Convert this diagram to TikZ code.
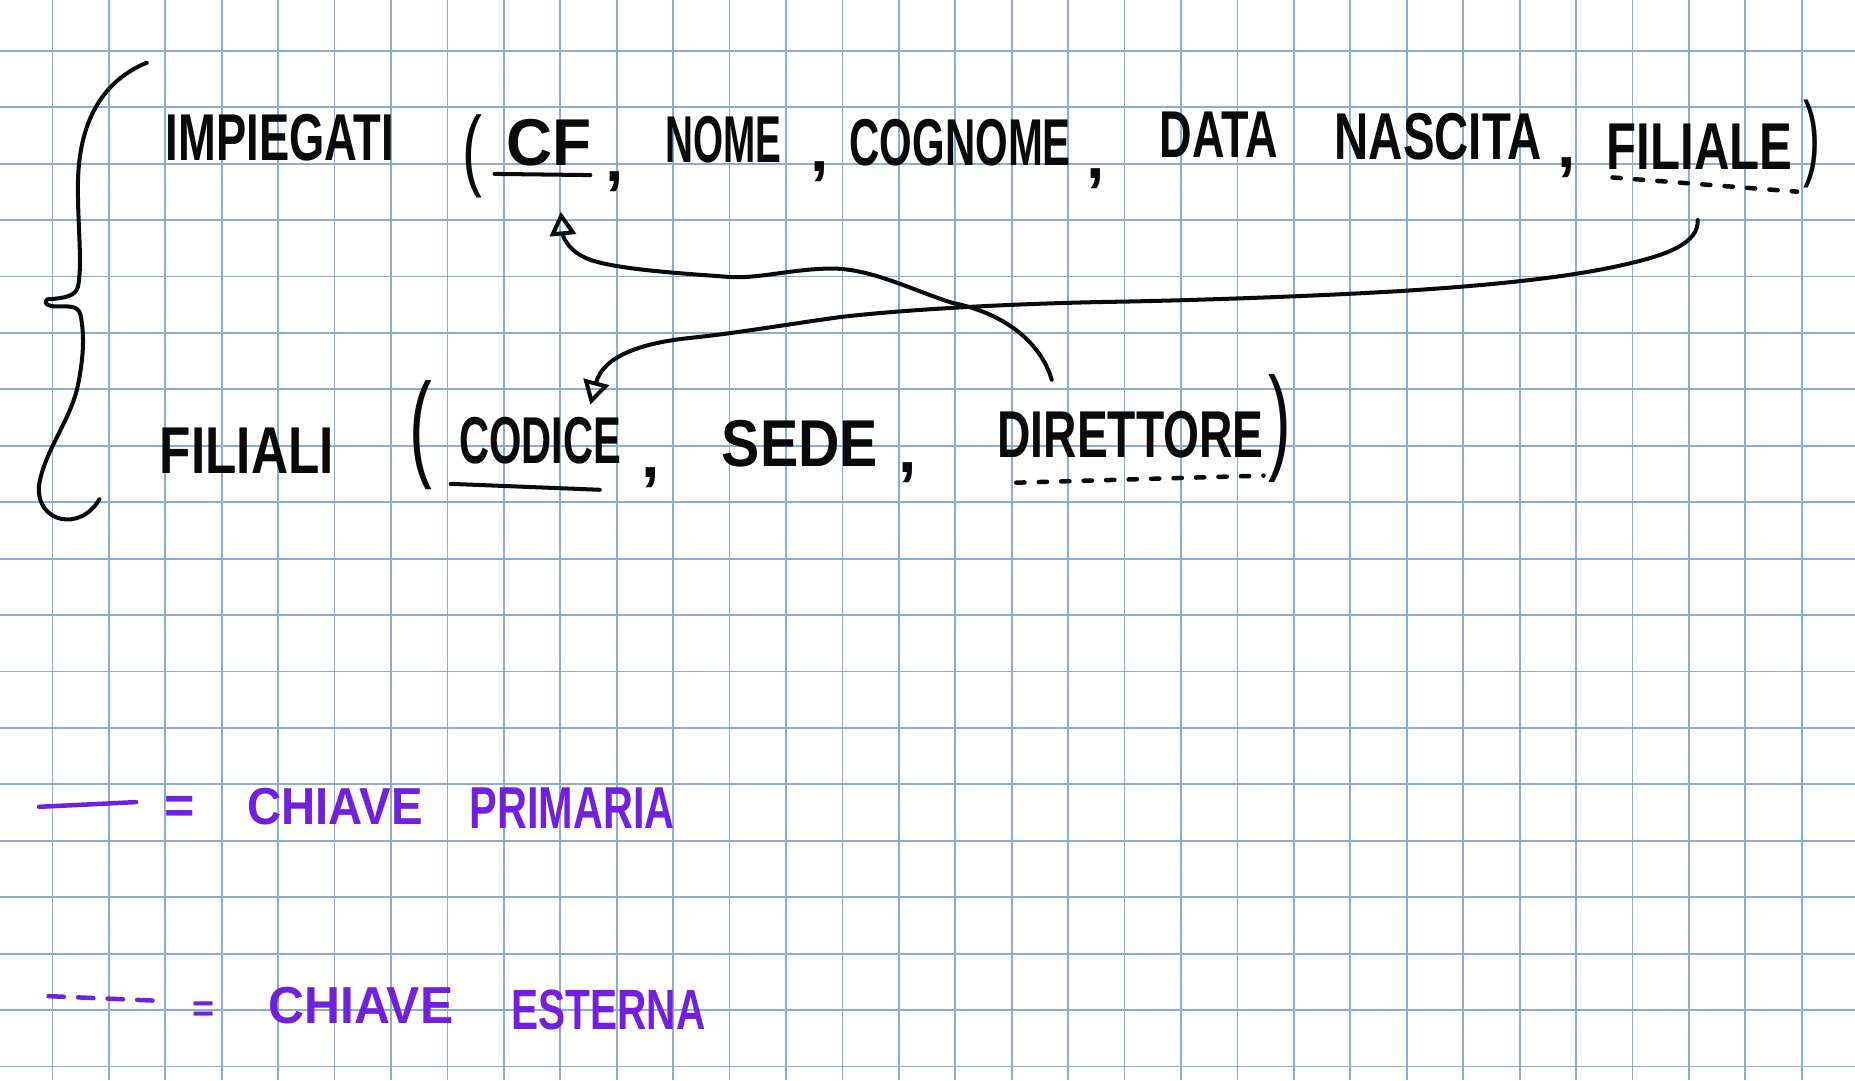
\documentclass[tikz,border=0pt]{standalone}
\usepackage{fontspec}
\setmainfont{Liberation Sans}
\usetikzlibrary{arrows.meta}
\definecolor{gridblue}{RGB}{140,172,212}
\definecolor{ink}{RGB}{10,10,10}
\definecolor{pen}{RGB}{112,32,222}
\newcommand\hw[2]{\resizebox{#1pt}{\height}{#2}}
\newcommand\tallparen[3]{\scalebox{#1}[#2]{#3}}
\tikzset{
  gridline/.style={draw=gridblue, line width=1.5pt},
  word/.style={anchor=base west, inner sep=0pt, text=ink, font=\fontsize{56}{60}\selectfont\bfseries},
  legword/.style={anchor=base west, inner sep=0pt, text=pen, font=\fontsize{44}{48}\selectfont\bfseries},
  paren/.style={inner sep=0pt, text=ink, font=\fontsize{36}{40}\selectfont},
  stroke/.style={draw=ink, line width=3.4pt, line cap=round, line join=round},
  pk/.style={stroke},
  fk/.style={stroke, line width=3.8pt, dash pattern=on 7pt off 12pt},
  link/.style={stroke, -{Triangle[open, length=20pt, width=22pt]}},
  legline/.style={draw=pen, line width=3.8pt, line cap=round},
}
\begin{document}
\begin{tikzpicture}[x=1pt, y=-1pt]
\useasboundingbox (0,0) rectangle (1568,913);
\fill[white] (0,0) rectangle (1568,913);
% grid paper
\foreach \i in {0,...,31} \draw[gridline] ({44.3+47.7*\i},0) -- ++(0,913);
\foreach \j in {0,...,18} \draw[gridline] (0,{42.9+47.7*\j}) -- ++(1568,0);

% brace
\draw[stroke] (124,53) .. controls (88,68) and (68,100) .. (66,150)
  .. controls (65,185) and (70,222) .. (66,242)
  .. controls (64,250) and (56,252) .. (40,253)
  .. controls (36,256) and (40,259) .. (48,259)
  .. controls (58,259) and (66,258) .. (68,266)
  .. controls (72,285) and (70,305) .. (66,325)
  .. controls (60,355) and (38,380) .. (33,410)
  .. controls (30,442) and (68,450) .. (84,422);

% row 1: IMPIEGATI
\node[word] (imp) at (140,136) {\hw{193}{IMPIEGATI}};
\node[paren] (po1) at (399,132) {\tallparen{1.4}{2.1}{(}};
\node[word] (cf) at (428,140) {\hw{72}{CF}};
\node[word] (c1) at (512,153) {,};
\node[word] (nome) at (562,137) {\hw{98}{NOME}};
\node[word] (c2) at (685,145) {,};
\node[word] (cognome) at (718,140) {\hw{187}{COGNOME}};
\node[word] (c3) at (918,151) {,};
\node[word] (data) at (980,133) {\hw{100}{DATA}};
\node[word] (nascita) at (1128,135) {\hw{175}{NASCITA}};
\node[word] (c4) at (1316,142) {,};
\node[word] (filiale) at (1358,143) {\hw{157}{FILIALE}};
\node[paren] (pc1) at (1532,122) {\tallparen{1.2}{2.22}{)}};

% row 2: FILIALI
\node[word] (fil) at (135,400) {\hw{147}{FILIALI}};
\node[paren] (po2) at (356,368) {\tallparen{1.6}{2.75}{(}};
\node[word] (codice) at (388,392) {\hw{137}{CODICE}};
\node[word] (c5) at (542,404) {,};
\node[word] (sede) at (610,394) {\hw{132}{SEDE}};
\node[word] (c6) at (759,399) {,};
\node[word] (dir) at (843,387) {\hw{225}{DIRETTORE}};
\node[paren] (pc2) at (1082,362) {\tallparen{1.6}{2.72}{)}};

% key underlines
\draw[pk] (418,147) -- (499,148);
\draw[fk] (1363,150) -- (1519,162);
\draw[pk] (381,409) -- (507,414);
\draw[fk] (859,408) -- (1068,402);

% foreign key links
\coordinate (a1s) at (889,321);
\coordinate (a1e) at (474,179);
\draw[link] (a1s) .. controls (880,290) and (850,265) .. (805,256)
  .. controls (770,245) and (735,226) .. (700,227)
  .. controls (665,228) and (640,236) .. (615,234)
  .. controls (575,231) and (525,228) .. (500,220)
  .. controls (480,213) and (476,200) .. (a1e);

\coordinate (a2s) at (1435,186);
\coordinate (a2e) at (499,342);
\draw[link] (a2s) .. controls (1436,205) and (1410,215) .. (1380,222)
  .. controls (1340,232) and (1280,240) .. (1184,246)
  .. controls (1100,251) and (1000,254) .. (947,255)
  .. controls (880,256) and (780,260) .. (710,268)
  .. controls (660,275) and (620,282) .. (580,286)
  .. controls (545,290) and (510,300) .. (a2e);

% legend
\draw[legline] (33,682) -- (115,678);
\node[inner sep=0pt, text=pen, font=\fontsize{44}{48}\selectfont\bfseries] (eq1) at (152,685) {=};
\node[legword] (ch1) at (209,697) {\hw{148}{CHIAVE}};
\node[legword, font=\fontsize{50}{54}\selectfont\bfseries] (prim) at (397,700) {\hw{173}{PRIMARIA}};

\draw[legline, dash pattern=on 13pt off 12pt] (41,842) -- (135,846);
\node[inner sep=0pt, text=pen, font=\fontsize{32}{36}\selectfont\bfseries] (eq2) at (172,855) {=};
\node[legword] (ch2) at (227,865) {\hw{156}{CHIAVE}};
\node[legword, font=\fontsize{48}{52}\selectfont\bfseries] (est) at (432,870) {\hw{164}{ESTERNA}};
\end{tikzpicture}
\end{document}
